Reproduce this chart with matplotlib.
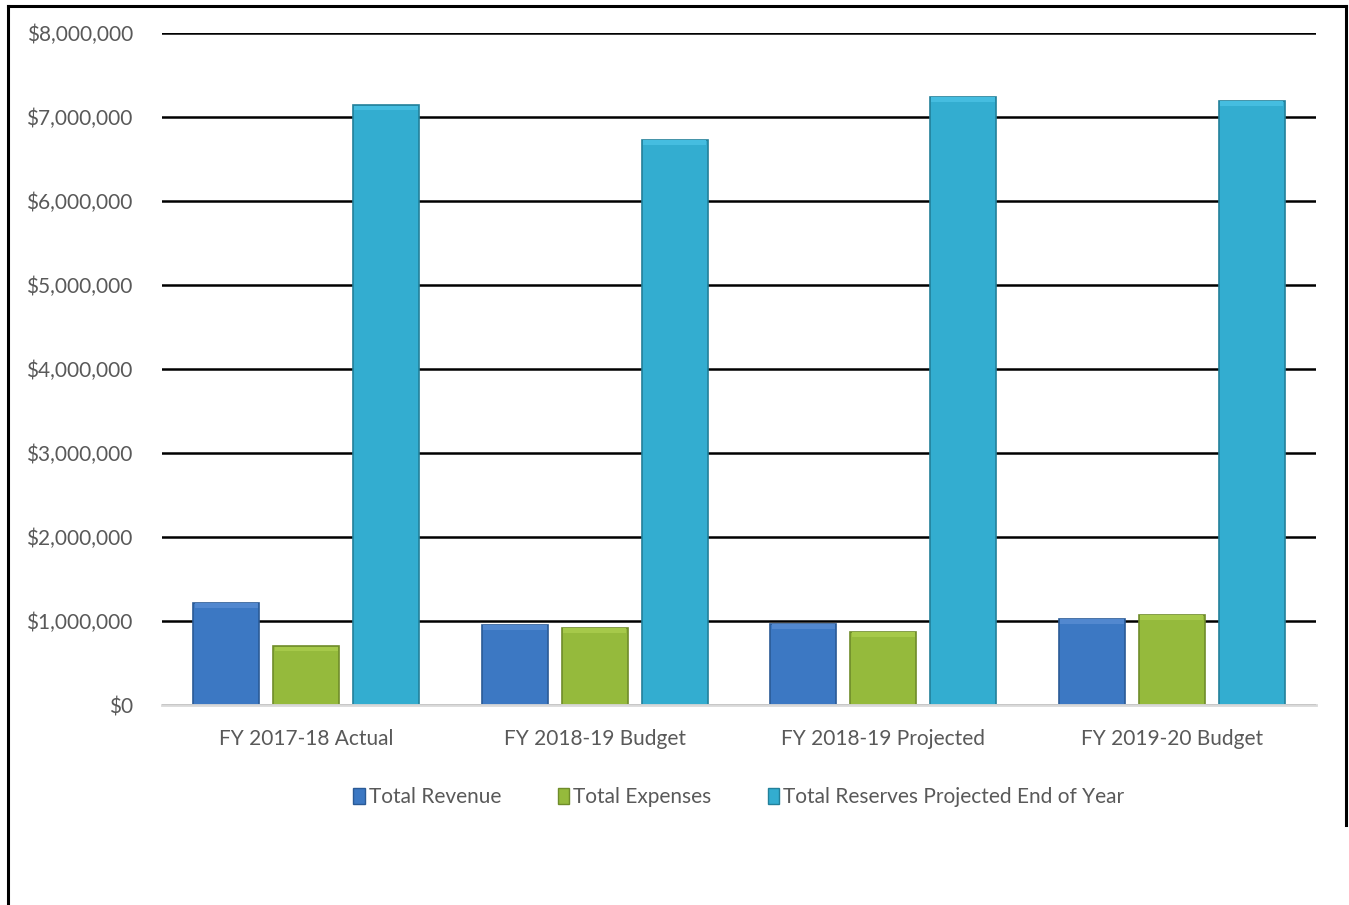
import matplotlib
matplotlib.use('Agg')
import matplotlib.pyplot as plt
import numpy as np
from matplotlib.lines import Line2D
from matplotlib.ticker import FuncFormatter

categories = ["FY 2017-18 Actual", "FY 2018-19 Budget", "FY 2018-19 Projected", "FY 2019-20 Budget"]
series_names = ["Total Revenue", "Total Expenses", "Total Reserves Projected End of Year"]
revenue = [1215000, 952000, 964000, 1024000]
expenses = [700000, 917000, 869000, 1071000]
reserves = [7140000, 6726000, 7238000, 7190000]
yticks = [0, 1000000, 2000000, 3000000, 4000000, 5000000, 6000000, 7000000, 8000000]

face_colors = ["#3c78c3", "#95ba3c", "#33add0"]
edge_colors = ["#2a5a96", "#6f8c2a", "#23809a"]
top_colors = ["#5288cf", "#a6c94a", "#45bde0"]

plt.rcParams['font.family'] = ['Lato', 'DejaVu Sans']
text_gray = "#595959"

W, H = 1349, 905
fig = plt.figure(figsize=(W / 100, H / 100), dpi=100)

# frame around the chart
frame = dict(color='black', lw=2.2, transform=fig.transFigure)
fig.add_artist(Line2D([8 / W, 1346 / W], [1 - 6 / H, 1 - 6 / H], **frame))
fig.add_artist(Line2D([8 / W, 8 / W], [1 - 6 / H, 0], **frame))
fig.add_artist(Line2D([1346 / W, 1346 / W], [1 - 6 / H, 1 - 825 / H], **frame))

ax = fig.add_axes([162 / W, 1 - 705 / H, (1316 - 162) / W, (705 - 33) / H])

x = np.arange(len(categories))
width = 0.229
offset = 0.277
data = [revenue, expenses, reserves]
for i, vals in enumerate(data):
    pos = x + (i - 1) * offset
    ax.bar(pos, vals, width=width, color=face_colors[i], edgecolor=edge_colors[i],
           linewidth=1.2, zorder=3, label=series_names[i])
    # soft bevel along the top of each bar
    ax.bar(pos, [55000] * len(vals), bottom=np.array(vals) - 60000, width=width * 0.96,
           color=top_colors[i], linewidth=0, zorder=4)

ax.set_xlim(-0.5, len(categories) - 0.5)
ax.set_ylim(0, 8000000)
ax.set_yticks(yticks)
ax.yaxis.set_major_formatter(FuncFormatter(lambda v, p: f"${v:,.0f}"))
ax.grid(axis='y', color='black', lw=1.8, zorder=0)
ax.set_axisbelow(True)
ax.set_xticks(x)
ax.set_xticklabels(categories)
ax.tick_params(axis='both', length=0, labelsize=15, labelcolor=text_gray)
ax.tick_params(axis='x', pad=17)
ax.tick_params(axis='y', pad=21)
for side in ['top', 'right', 'left']:
    ax.spines[side].set_visible(False)
ax.spines['bottom'].set_color('#d9d9d9')
ax.spines['bottom'].set_linewidth(2)
ax.spines['bottom'].set_zorder(5)

handles = [plt.Rectangle((0, 0), 1, 1, facecolor=face_colors[i], edgecolor=edge_colors[i])
           for i in range(3)]
leg = fig.legend(handles, series_names, loc='center', bbox_to_anchor=(739 / W, 1 - 797 / H),
                 ncol=3, frameon=False, fontsize=15, handlelength=0.55, handleheight=0.8,
                 handletextpad=0.2, columnspacing=2.7)
for t in leg.get_texts():
    t.set_color(text_gray)

fig.savefig("out.png", dpi=100)
